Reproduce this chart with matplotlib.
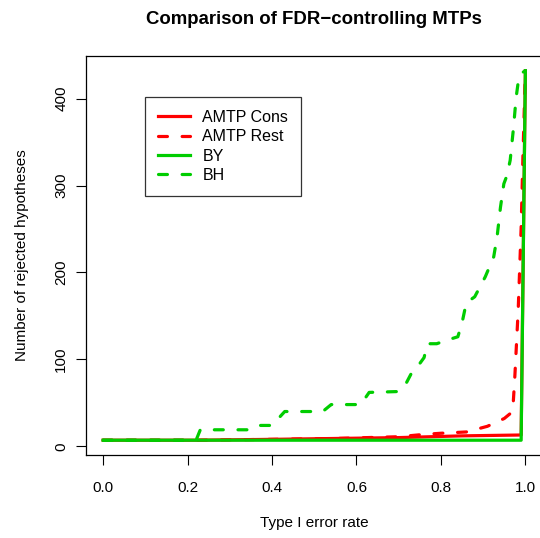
import matplotlib
matplotlib.use("Agg")
import matplotlib.pyplot as plt

plt.rcParams['font.family'] = ['Liberation Sans', 'DejaVu Sans']

# Type I error rate vs number of rejected hypotheses
cons_x = [0, 0.22, 0.40, 0.55, 0.70, 0.85, 0.99, 1.0]
cons_y = [7, 7, 8, 9, 10, 12, 13, 432]

rest_x = [0, 0.22, 0.40, 0.55, 0.70, 0.76, 0.80, 0.86, 0.91, 0.95, 0.97,
          0.975, 0.983, 0.99, 0.994, 1.0]
rest_y = [7, 7, 8, 9, 11, 13.7, 15, 16.5, 23, 32, 40,
          80, 157, 252, 330, 432]

by_x = [0, 0.99, 1.0]
by_y = [7, 7, 432]

bh_x = [0, 0.22, 0.23, 0.35, 0.37, 0.40, 0.43, 0.52, 0.54, 0.61, 0.63, 0.70,
        0.716, 0.73, 0.745, 0.76, 0.768, 0.79, 0.82, 0.84, 0.85, 0.86, 0.88,
        0.905, 0.925, 0.933, 0.941, 0.949, 0.956, 0.964, 0.972, 0.978, 0.985,
        0.993, 1.0]
bh_y = [7, 7, 19, 19, 24, 24, 40, 40, 48, 48, 62, 63,
        71, 84, 92, 102, 118, 118, 123, 126, 142, 165, 172,
        195, 218, 241, 275, 302, 311, 329, 367, 401, 426,
        430, 432]

xticks = [0.0, 0.2, 0.4, 0.6, 0.8, 1.0]
yticks = [0, 100, 200, 300, 400]

RED = '#FF0000'
GREEN = '#00CD00'

fig = plt.figure(figsize=(5.4, 5.38), dpi=100)
ax = fig.add_axes([0.1598, 0.1543, 0.8444, 0.7416])

lw = 2.3
dash = (2.8, 4.6)
ax.plot(cons_x, cons_y, color=RED, lw=lw, label='AMTP Cons')
ax.plot(rest_x, rest_y, color=RED, lw=lw, dashes=dash,
        dash_capstyle='round', label='AMTP Rest')
ax.plot(by_x, by_y, color=GREEN, lw=lw, label='BY')
ax.plot(bh_x, bh_y, color=GREEN, lw=lw, dashes=dash,
        dash_capstyle='round', label='BH')

ax.set_xlim(-0.04, 1.04)
ax.set_ylim(7 - 0.04 * 425, 432 + 0.04 * 425)
ax.set_xticks(xticks)
ax.set_xticklabels(['%.1f' % v for v in xticks])
ax.set_yticks(yticks)
ax.set_yticklabels([str(v) for v in yticks], rotation=90, va='center')
ax.tick_params(direction='out', length=7, width=0.8, labelsize=11)
ax.tick_params(axis='x', pad=11.5)
ax.tick_params(axis='y', pad=6)

for s in ax.spines.values():
    s.set_linewidth(0.9)

ax.set_xlabel('Type I error rate', fontsize=11, labelpad=15.5)
ax.set_ylabel('Number of rejected hypotheses', fontsize=11, labelpad=18.5)
ax.set_title('Comparison of FDR\u2212controlling MTPs', fontsize=13.4,
             fontweight='bold', pad=23)

leg = ax.legend(loc='upper left', bbox_to_anchor=(0.1287, 0.8965),
                borderaxespad=0, fontsize=11.5, handlelength=2.0,
                handletextpad=0.8, labelspacing=0.27, borderpad=0.8,
                fancybox=False, frameon=True)
leg.get_frame().set_edgecolor('black')
leg.get_frame().set_linewidth(0.9)

fig.savefig('out.png', dpi=100)
